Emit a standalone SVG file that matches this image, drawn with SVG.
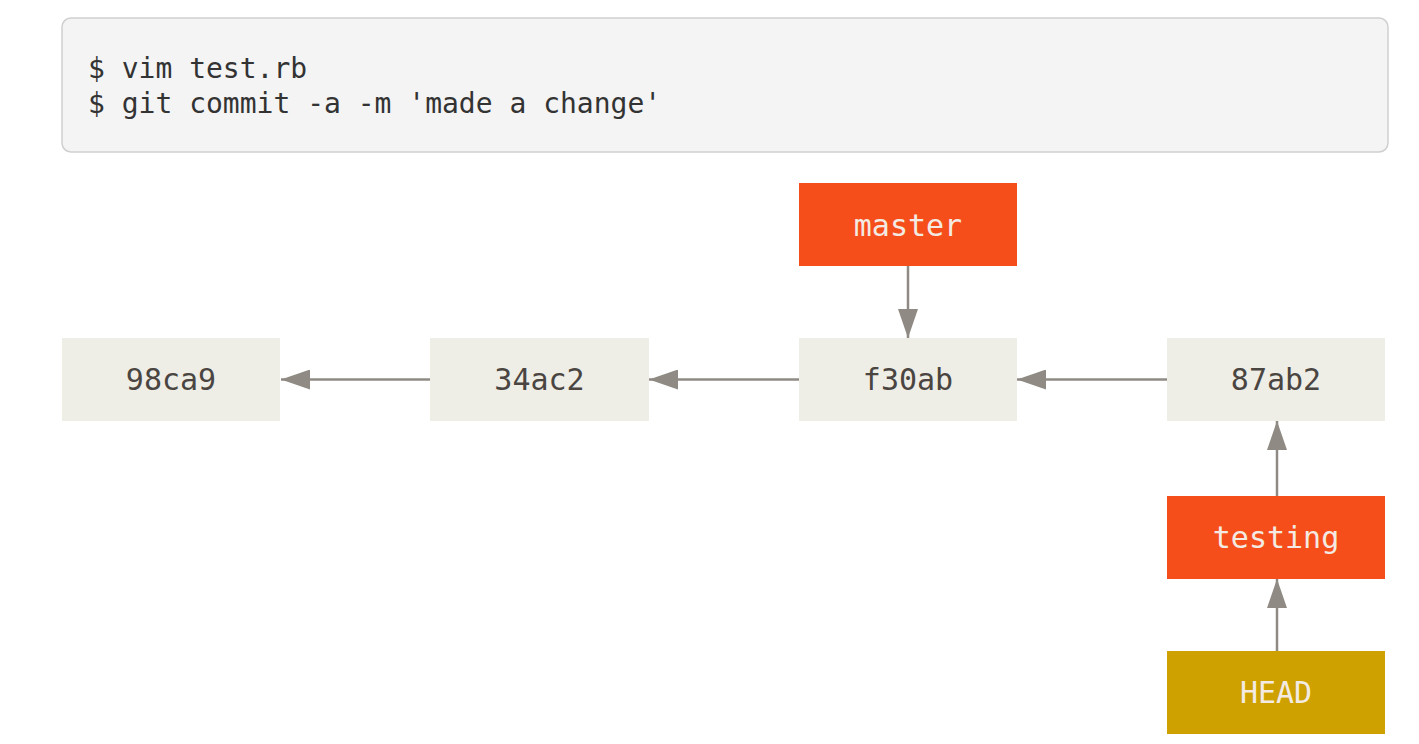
<svg xmlns="http://www.w3.org/2000/svg" width="1419" height="744" viewBox="0 0 1419 744">
<style>
.code{font-family:"DejaVu Sans Mono","Liberation Mono",monospace;font-size:28px;fill:#333333}
.commit rect{fill:#eeede6}
.commit text{font-family:"DejaVu Sans Mono","Liberation Mono",monospace;font-size:30px;fill:#4a4541;text-anchor:middle}
.branch rect{fill:#f64e1b}
.head rect{fill:#cfa100}
.branch text,.head text{font-family:"DejaVu Sans Mono","Liberation Mono",monospace;font-size:30px;fill:#f3ebe3;text-anchor:middle}
.conn line{stroke:#8f8a83;stroke-width:2.5}
</style>
<defs>
<marker id="ah" markerWidth="30" markerHeight="20" refX="29" refY="10" orient="auto" markerUnits="userSpaceOnUse">
<path d="M0,0 L29,10 L0,20 Z" fill="#8f8a83"/>
</marker>
</defs>
<rect width="1419" height="744" fill="#ffffff"/>
<g id="code">
<rect x="62" y="18" width="1326" height="134" rx="9" fill="#f4f4f4" stroke="#cfcfcf" stroke-width="1.5"/>
<text class="code" x="88" y="78">$ vim test.rb</text>
<text class="code" x="88" y="113">$ git commit -a -m 'made a change'</text>
</g>
<g id="connectors" class="conn">
<line x1="430" y1="379.5" x2="281" y2="379.5" marker-end="url(#ah)"/>
<line x1="799" y1="379.5" x2="649" y2="379.5" marker-end="url(#ah)"/>
<line x1="1167" y1="379.5" x2="1017" y2="379.5" marker-end="url(#ah)"/>
<line x1="908" y1="266" x2="908" y2="338" marker-end="url(#ah)"/>
<line x1="1277" y1="496" x2="1277" y2="421" marker-end="url(#ah)"/>
<line x1="1277" y1="651" x2="1277" y2="579" marker-end="url(#ah)"/>
</g>
<g id="c98ca9" class="commit"><rect x="62" y="338" width="218" height="83"/><text x="171" y="390">98ca9</text></g>
<g id="c34ac2" class="commit"><rect x="430" y="338" width="219" height="83"/><text x="539.5" y="390">34ac2</text></g>
<g id="cf30ab" class="commit"><rect x="799" y="338" width="218" height="83"/><text x="908" y="390">f30ab</text></g>
<g id="c87ab2" class="commit"><rect x="1167" y="338" width="218" height="83"/><text x="1276" y="390">87ab2</text></g>
<g id="master" class="branch"><rect x="799" y="183" width="218" height="83"/><text x="908" y="236">master</text></g>
<g id="testing" class="branch"><rect x="1167" y="496" width="218" height="83"/><text x="1276" y="548">testing</text></g>
<g id="HEAD" class="head"><rect x="1167" y="651" width="218" height="83"/><text x="1276" y="703">HEAD</text></g>
</svg>
